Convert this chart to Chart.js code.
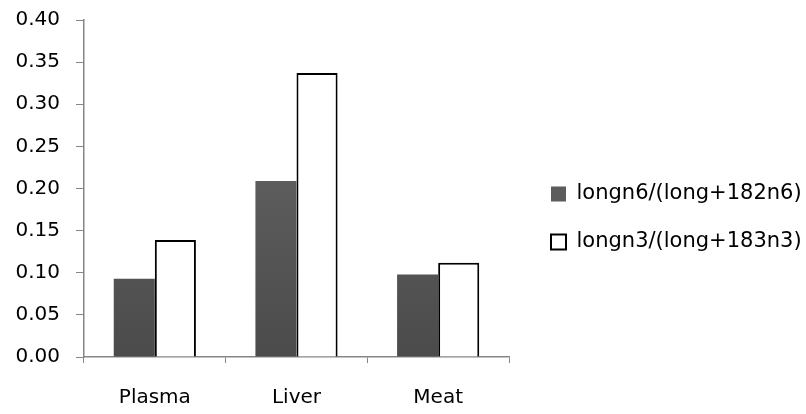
<!DOCTYPE html>
<html lang="en">
<head>
    <meta charset="UTF-8">
    <title>Long-chain ratios</title>
    <style>
        body {
            margin: 0;
            background-color: #ffffff;
        }

        .chart-box {
            width: 806px;
            height: 414px;
        }
    </style>
</head>
<body>
<div class="chart-box">
    <canvas id="ratioChart"></canvas>
</div>

<script src="https://cdn.jsdelivr.net/npm/chart.js"></script>
<script>
    // values
    const tissues = ['Plasma', 'Liver', 'Meat'];
    const longN6 = [0.093, 0.209, 0.098];
    const longN3 = [0.139, 0.337, 0.112];
    const yTicks = [0.00, 0.05, 0.10, 0.15, 0.20, 0.25, 0.30, 0.35, 0.40];

    const axisGrey = '#868686';

    function darkFill(context) {
        const area = context.chart.chartArea;
        if (!area) {
            return '#5a5a5a';
        }
        const g = context.chart.ctx.createLinearGradient(0, area.top, 0, area.bottom);
        g.addColorStop(0, '#6c6c6c');
        g.addColorStop(1, '#4b4b4b');
        return g;
    }

    new Chart(document.getElementById('ratioChart').getContext('2d'), {
        type: 'bar',
        data: {
            labels: tissues,
            datasets: [{
                label: 'longn6/(long+182n6)',
                data: longN6,
                backgroundColor: darkFill,
                borderColor: '#5a5a5a',
                borderWidth: 0
            }, {
                label: 'longn3/(long+183n3)',
                data: longN3,
                backgroundColor: '#ffffff',
                borderColor: '#000000',
                borderWidth: 2
            }]
        },
        options: {
            responsive: true,
            maintainAspectRatio: false,
            animation: false,
            layout: {
                padding: 0
            },
            datasets: {
                bar: {
                    categoryPercentage: 0.58,
                    barPercentage: 1.0
                }
            },
            plugins: {
                tooltip: { enabled: false },
                legend: {
                    position: 'right',
                    maxWidth: 282,
                    // blank title only pushes the items down a little
                    title: {
                        display: true,
                        text: ' ',
                        font: { size: 10, lineHeight: 1 },
                        padding: 6
                    },
                    labels: {
                        color: '#000000',
                        font: { family: 'DejaVu Sans', size: 21 },
                        boxWidth: 15,
                        boxHeight: 15,
                        padding: 27,
                        generateLabels: function(chart) {
                            return [{
                                text: 'longn6/(long+182n6)',
                                fillStyle: '#5c5c5c',
                                strokeStyle: '#5c5c5c',
                                fontColor: '#000000',
                                lineWidth: 0,
                                datasetIndex: 0
                            }, {
                                text: 'longn3/(long+183n3)',
                                fillStyle: '#ffffff',
                                strokeStyle: '#000000',
                                fontColor: '#000000',
                                lineWidth: 2,
                                datasetIndex: 1
                            }];
                        }
                    }
                }
            },
            scales: {
                x: {
                    grid: {
                        drawOnChartArea: false,
                        drawTicks: true,
                        tickLength: 6,
                        color: axisGrey
                    },
                    border: { color: axisGrey, width: 1.5 },
                    ticks: {
                        color: '#000000',
                        font: { family: 'DejaVu Sans', size: 20 },
                        padding: 23
                    },
                    // chart.js reserves the tick padding twice, keep the axis low like the original
                    afterFit: function(scale) {
                        scale.height = 57;
                    }
                },
                y: {
                    min: 0,
                    max: 0.40,
                    afterBuildTicks: function(axis) {
                        axis.ticks = yTicks.map(v => ({ value: v }));
                    },
                    grid: {
                        drawOnChartArea: false,
                        drawTicks: true,
                        tickLength: 8,
                        color: axisGrey
                    },
                    border: { color: axisGrey, width: 1.5 },
                    ticks: {
                        color: '#000000',
                        font: { family: 'DejaVu Sans', size: 20 },
                        padding: 16,
                        callback: function(value) {
                            return Number(value).toFixed(2);
                        }
                    },
                    afterFit: function(scale) {
                        scale.width = 84;
                        scale.paddingTop = 20;
                    }
                },
                // empty spacer between the plot and the legend
                gap: {
                    position: 'right',
                    display: true,
                    ticks: { display: false },
                    grid: { display: false },
                    border: { display: false },
                    afterFit: function(scale) {
                        scale.width = 15;
                    }
                }
            }
        }
    });
</script>
</body>
</html>
